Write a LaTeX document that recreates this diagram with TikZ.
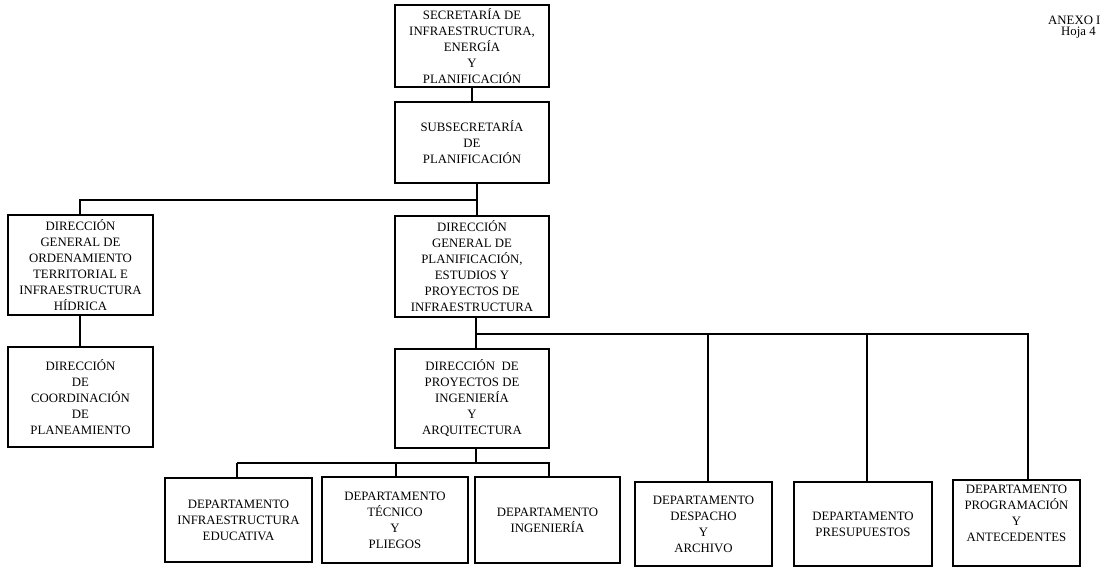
\documentclass[tikz,border=0pt]{standalone}
\usepackage{fontspec}
\setmainfont{Liberation Serif}
\begin{document}
\begin{tikzpicture}[x=1pt,y=-1pt,
  orgbox/.style={draw,line width=1.2pt,align=center,inner sep=0pt,
    font=\fontsize{12.8}{16}\selectfont},
  link/.style={line width=1.2pt}]
\useasboundingbox (0,0) rectangle (1104,566);
% box from its corners: #1 name, (#2,#3) top left, (#4,#5) bottom right
\newcommand{\orgnode}[6]{%
  \node[orgbox,minimum width=#4-#2,minimum height=#5-#3]
    (#1) at ({(#2+#4)/2},{(#3+#5)/2}) {#6};}
\orgnode{sec}{395}{5}{549}{87}{SECRETARÍA DE\\INFRAESTRUCTURA,\\ENERGÍA\\Y\\PLANIFICACIÓN}
\orgnode{sub}{395}{102}{549}{183}{SUBSECRETARÍA\\DE\\PLANIFICACIÓN}
\orgnode{dgo}{8}{215}{153}{315}{DIRECCIÓN\\GENERAL DE\\ORDENAMIENTO\\TERRITORIAL E\\INFRAESTRUCTURA\\HÍDRICA}
\orgnode{dcp}{8}{347}{153}{447}{DIRECCIÓN\\DE\\COORDINACIÓN\\DE\\PLANEAMIENTO}
\orgnode{dgp}{395}{216}{549}{317}{DIRECCIÓN\\GENERAL DE\\PLANIFICACIÓN,\\ESTUDIOS Y\\PROYECTOS DE\\INFRAESTRUCTURA}
\orgnode{dpi}{395}{349}{549}{448}{DIRECCIÓN\ \ DE\\PROYECTOS DE\\INGENIERÍA\\Y\\ARQUITECTURA}
\orgnode{dep1}{165}{478}{312}{562}{DEPARTAMENTO\\INFRAESTRUCTURA\\EDUCATIVA}
\orgnode{dep2}{322}{477}{468}{563}{DEPARTAMENTO\\TÉCNICO\\Y\\PLIEGOS}
\orgnode{dep3}{475}{477}{620}{563}{DEPARTAMENTO\\INGENIERÍA}
\orgnode{dep4}{635}{482}{772}{566}{DEPARTAMENTO\\DESPACHO\\Y\\ARCHIVO}
\orgnode{dep5}{794}{482}{932}{566}{DEPARTAMENTO\\PRESUPUESTOS}
\orgnode{dep6}{953}{480}{1080}{566}{DEPARTAMENTO\\PROGRAMACIÓN\\Y\\ANTECEDENTES\\[4pt]}
% page reference
\node[anchor=west,inner sep=0pt,font=\fontsize{12.8}{14}\selectfont] (anexo) at (1048,20) {ANEXO I};
\node[anchor=west,inner sep=0pt,font=\fontsize{12.8}{14}\selectfont] (hoja) at (1061,33) {Hoja 4};
% bus points
\coordinate (b1l) at (80,200);
\coordinate (b1r) at (477,200);
\coordinate (b2l) at (476,334);
\coordinate (b2a) at (708,334);
\coordinate (b2b) at (867,334);
\coordinate (b2r) at (1028,334);
\coordinate (b3c) at (476,463);
\coordinate (b3l) at (237,463);
\coordinate (b3m) at (396,463);
\coordinate (b3r) at (549,463);
% connectors
\draw[link] (sec.south) -- (sub.north);
\draw[link] (sub.south -| b1r) -- (b1r) -- (b1l) -- (dgo.north -| b1l);
\draw[link] (b1r) -- (dgp.north -| b1r);
\draw[link] (dgo.south -| b1l) -- (dcp.north -| b1l);
\draw[link] (dgp.south -| b2l) -- (dpi.north -| b2l);
\draw[link] (b2l) -- (b2r) -- (dep6.north -| b2r);
\draw[link] (b2a) -- (dep4.north -| b2a);
\draw[link] (b2b) -- (dep5.north -| b2b);
\draw[link] (dpi.south -| b3c) -- (b3c);
\draw[link] (b3l) -- (b3r) -- (dep3.north -| b3r);
\draw[link] (b3l) -- (dep1.north -| b3l);
\draw[link] (b3m) -- (dep2.north -| b3m);
\end{tikzpicture}
\end{document}
